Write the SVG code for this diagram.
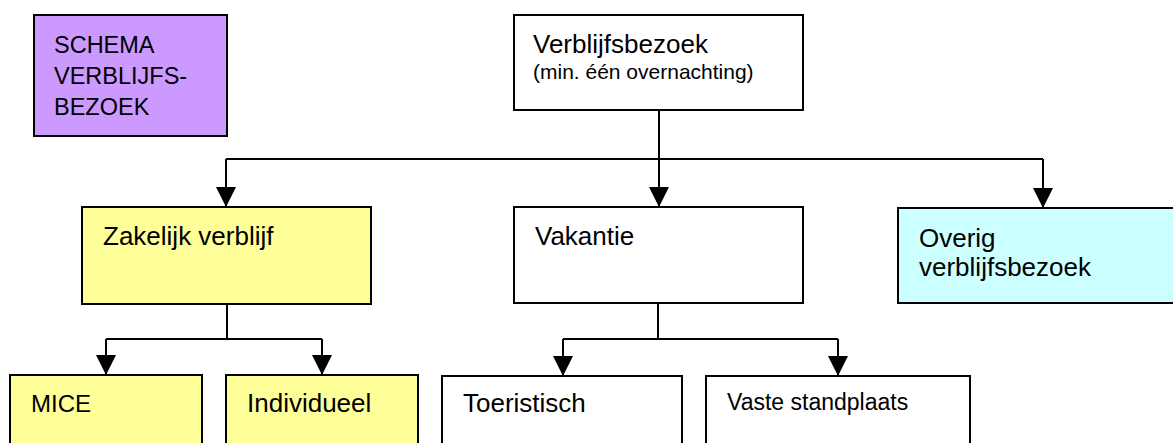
<svg xmlns="http://www.w3.org/2000/svg" width="1173" height="443" viewBox="0 0 1173 443">
<defs>
<style>
.box{stroke:#000;stroke-width:2}
.t{font-family:"Liberation Sans",Arial,sans-serif;fill:#000;font-size:26px}
.c{fill:none;stroke:#000;stroke-width:2}
</style>
<marker id="ah" markerUnits="userSpaceOnUse" markerWidth="20" markerHeight="20" viewBox="0 0 20 20" refX="20" refY="10" orient="auto">
<path d="M0,0 L20,10 L0,20 Z" fill="#000"/>
</marker>
</defs>
<rect width="1173" height="443" fill="#fff"/>
<g id="connectors">
<path class="c" d="M659,110 V159"/>
<path class="c" d="M226,159 H1043"/>
<path class="c" d="M226,159 V207" marker-end="url(#ah)"/>
<path class="c" d="M659,159 V207" marker-end="url(#ah)"/>
<path class="c" d="M1043,159 V208" marker-end="url(#ah)"/>
<path class="c" d="M227,304 V339"/>
<path class="c" d="M106,339 H322"/>
<path class="c" d="M106,339 V375" marker-end="url(#ah)"/>
<path class="c" d="M322,339 V375" marker-end="url(#ah)"/>
<path class="c" d="M658,303 V339"/>
<path class="c" d="M563,339 H838"/>
<path class="c" d="M563,339 V376" marker-end="url(#ah)"/>
<path class="c" d="M838,339 V376" marker-end="url(#ah)"/>
</g>
<g id="schema">
<rect class="box" x="34" y="15" width="193" height="121" fill="#CC99FF"/>
<text class="t" style="font-size:23.5px" x="54" y="53">SCHEMA</text>
<text class="t" style="font-size:23.5px" x="54" y="84">VERBLIJFS-</text>
<text class="t" style="font-size:23.5px" x="54" y="115">BEZOEK</text>
</g>
<g id="verblijfsbezoek">
<rect class="box" x="514" y="15" width="289" height="95" fill="#fff"/>
<text class="t" x="533" y="53">Verblijfsbezoek</text>
<text class="t" style="font-size:21px" x="533" y="79">(min. één overnachting)</text>
</g>
<g id="zakelijk">
<rect class="box" x="82" y="207" width="289" height="97" fill="#FFFF99"/>
<text class="t" x="103" y="245">Zakelijk verblijf</text>
</g>
<g id="vakantie">
<rect class="box" x="514" y="207" width="289" height="96" fill="#fff"/>
<text class="t" x="535" y="245">Vakantie</text>
</g>
<g id="overig">
<rect class="box" x="898" y="208" width="285" height="95" fill="#CCFFFF"/>
<text class="t" x="919" y="247">Overig</text>
<text class="t" x="919" y="276">verblijfsbezoek</text>
</g>
<g id="mice">
<rect class="box" x="10" y="375" width="192" height="90" fill="#FFFF99"/>
<text class="t" style="font-size:24px" x="31" y="412">MICE</text>
</g>
<g id="individueel">
<rect class="box" x="226" y="375" width="192" height="90" fill="#FFFF99"/>
<text class="t" x="247" y="412">Individueel</text>
</g>
<g id="toeristisch">
<rect class="box" x="442" y="376" width="240" height="90" fill="#fff"/>
<text class="t" x="463" y="412">Toeristisch</text>
</g>
<g id="vaste">
<rect class="box" x="706" y="376" width="264" height="90" fill="#fff"/>
<text class="t" style="font-size:23px" x="727" y="410">Vaste standplaats</text>
</g>
</svg>
